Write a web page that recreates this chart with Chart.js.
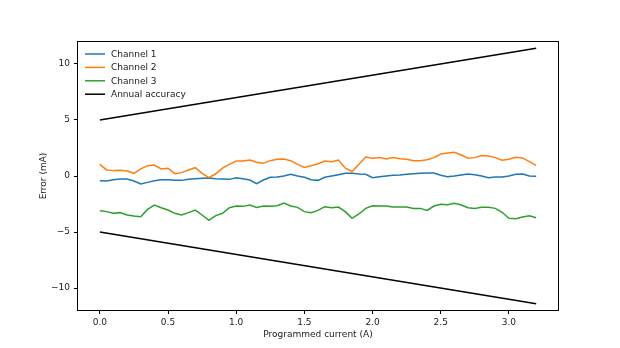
<!DOCTYPE html>
<html><head><meta charset="utf-8">
<script src="https://cdn.jsdelivr.net/npm/chart.js@4.4.1/dist/chart.umd.min.js"></script>
<style>html,body{margin:0;padding:0;background:#fff;}#wrap{width:620px;height:348px;}</style>
</head><body><div id="wrap"><canvas id="c" width="620" height="348"></canvas></div>
<script>
const currentA = [0.00,0.05,0.10,0.15,0.20,0.25,0.30,0.35,0.40,0.45,0.50,0.55,0.60,0.65,0.70,0.75,0.80,0.85,0.90,0.95,
  1.00,1.05,1.10,1.15,1.20,1.25,1.30,1.35,1.40,1.45,1.50,1.55,1.60,1.65,1.70,1.75,1.80,1.85,1.90,1.95,
  2.00,2.05,2.10,2.15,2.20,2.25,2.30,2.35,2.40,2.45,2.50,2.55,2.60,2.65,2.70,2.75,2.80,2.85,2.90,2.95,
  3.00,3.05,3.10,3.15,3.20];
const channel1 = [-0.42,-0.45,-0.33,-0.27,-0.27,-0.45,-0.71,-0.57,-0.42,-0.33,-0.33,-0.39,-0.39,-0.30,-0.24,-0.21,-0.18,-0.24,-0.27,-0.30,
  -0.15,-0.24,-0.36,-0.68,-0.36,-0.12,-0.09,0.00,0.15,0.00,-0.12,-0.33,-0.39,-0.12,0.00,0.12,0.24,0.24,0.18,0.15,
  -0.15,-0.06,0.00,0.06,0.09,0.15,0.21,0.24,0.27,0.27,0.06,-0.06,0.00,0.09,0.18,0.12,0.00,-0.15,-0.09,-0.09,
  0.00,0.15,0.18,0.00,-0.03];
const channel2 = [1.04,0.54,0.48,0.51,0.45,0.24,0.63,0.92,0.98,0.63,0.69,0.21,0.30,0.54,0.74,0.24,-0.15,0.20,0.70,1.04,
  1.34,1.34,1.43,1.22,1.13,1.37,1.49,1.52,1.37,1.04,0.77,0.92,1.10,1.34,1.28,1.43,0.70,0.40,1.04,1.70,
  1.58,1.64,1.52,1.64,1.55,1.49,1.37,1.37,1.46,1.64,1.96,2.05,2.11,1.87,1.58,1.64,1.82,1.79,1.64,1.40,
  1.49,1.67,1.61,1.28,0.95];
const channel3 = [-3.10,-3.18,-3.33,-3.27,-3.48,-3.57,-3.63,-2.98,-2.59,-2.83,-3.04,-3.33,-3.48,-3.27,-3.04,-3.48,-3.95,-3.54,-3.33,-2.83,
  -2.68,-2.71,-2.59,-2.80,-2.68,-2.71,-2.65,-2.41,-2.68,-2.80,-3.18,-3.27,-3.07,-2.74,-2.83,-2.77,-3.18,-3.78,-3.39,-2.89,
  -2.65,-2.68,-2.68,-2.77,-2.77,-2.77,-2.89,-2.89,-3.07,-2.68,-2.53,-2.56,-2.44,-2.59,-2.83,-2.89,-2.80,-2.80,-2.89,-3.24,
  -3.78,-3.81,-3.66,-3.54,-3.72];
const accX = [0, 3.2];
const accUpper = [5, 11.4];
const accLower = [-5, -11.4];
const xTickValues = [0, 0.5, 1.0, 1.5, 2.0, 2.5, 3.0];
const yTickValues = [-10, -5, 0, 5, 10];
const seriesLabels = ['Channel 1', 'Channel 2', 'Channel 3', 'Annual accuracy'];
const seriesColors = ['#1f77b4', '#ff7f0e', '#2ca02c', '#000000'];

const pts = (xs, ys) => xs.map((x, i) => ({x: x, y: ys[i]}));
const TXT = '#1a1a1a';
Chart.defaults.font.family = 'DejaVu Sans';
Chart.defaults.font.size = 9;

const framePlugin = {
  id: 'frame',
  afterDraw(chart) {
    const {ctx, chartArea: a} = chart;
    ctx.save();
    ctx.strokeStyle = '#000';
    ctx.lineWidth = 1;
    ctx.strokeRect(Math.round(a.left) - 0.5, Math.round(a.top) - 0.5, Math.round(a.right - a.left) + 1, Math.round(a.bottom - a.top) + 1);
    // legend
    ctx.font = '9px "DejaVu Sans"';
    ctx.textBaseline = 'middle';
    ctx.textAlign = 'left';
    ctx.lineWidth = 1.5;
    for (let i = 0; i < seriesLabels.length; i++) {
      const y = a.top + 12 + i * 13.4;
      ctx.strokeStyle = seriesColors[i];
      ctx.beginPath();
      ctx.moveTo(a.left + 7, y);
      ctx.lineTo(a.left + 27, y);
      ctx.stroke();
      ctx.fillStyle = TXT;
      ctx.fillText(seriesLabels[i], a.left + 33, y + 0.5);
    }
    ctx.restore();
  }
};

const ds = (label, data, color, order) => ({
  label: label, data: data, borderColor: color, backgroundColor: color,
  borderWidth: 1.5, pointRadius: 0, tension: 0, fill: false, order: order
});

new Chart(document.getElementById('c'), {
  type: 'line',
  data: {
    datasets: [
      ds(seriesLabels[0], pts(currentA, channel1), seriesColors[0], 5),
      ds(seriesLabels[1], pts(currentA, channel2), seriesColors[1], 4),
      ds(seriesLabels[2], pts(currentA, channel3), seriesColors[2], 3),
      ds(seriesLabels[3], pts(accX, accUpper), seriesColors[3], 2),
      ds('', pts(accX, accLower), seriesColors[3], 1)
    ]
  },
  options: {
    responsive: false,
    animation: false,
    devicePixelRatio: 1,
    layout: {padding: {left: 0, right: 62, top: 42, bottom: 0}},
    plugins: {legend: {display: false}, tooltip: {enabled: false}},
    scales: {
      x: {
        type: 'linear', min: -0.16, max: 3.36,
        afterBuildTicks: s => { s.ticks = xTickValues.map(v => ({value: v})); },
        afterFit: s => { s.height = 38; },
        ticks: {callback: v => Number(v).toFixed(1), color: TXT, padding: 3, maxRotation: 0, autoSkip: false},
        grid: {display: true, drawOnChartArea: false, drawTicks: true, tickLength: 4, color: '#000'},
        border: {display: false},
        title: {display: true, text: 'Programmed current (A)', color: TXT, padding: {top: 0, bottom: 8}}
      },
      y: {
        type: 'linear', min: -11.96, max: 11.96,
        afterBuildTicks: s => { s.ticks = yTickValues.map(v => ({value: v})); },
        afterFit: s => { s.width = 78; },
        ticks: {callback: v => (v < 0 ? '\u2212' + Math.abs(v) : String(v)), color: TXT, padding: 4, autoSkip: false},
        grid: {display: true, drawOnChartArea: false, drawTicks: true, tickLength: 4, color: '#000'},
        border: {display: false},
        title: {display: true, text: 'Error (mA)', color: TXT, padding: {top: 38, bottom: 0}}
      }
    }
  },
  plugins: [framePlugin]
});
</script>
</body></html>
